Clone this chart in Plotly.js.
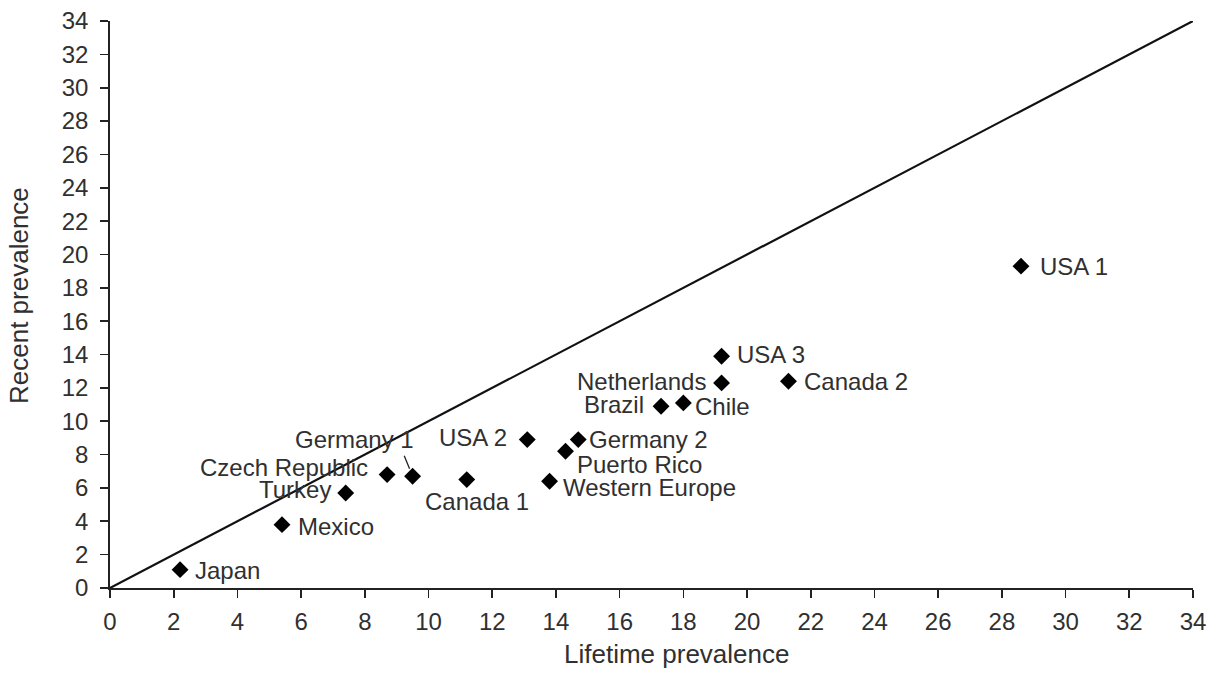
<!DOCTYPE html>
<html>
<head>
<meta charset="utf-8">
<script src="https://cdn.plot.ly/plotly-3.0.1.min.js"></script>
<style>html,body{margin:0;padding:0;background:#fff;}#chart{width:1223px;height:681px;}</style>
</head>
<body>
<div id="chart"></div>
<script>
// Data
const countries = ["Japan","Mexico","Turkey","Czech Republic","Germany 1","Canada 1","USA 2","Western Europe","Puerto Rico","Germany 2","Brazil","Chile","Netherlands","USA 3","Canada 2","USA 1"];
const lifetime  = [2.2, 5.4, 7.4, 8.7, 9.5, 11.2, 13.1, 13.8, 14.3, 14.7, 17.3, 18.0, 19.2, 19.2, 21.3, 28.6];
const recent    = [1.1, 3.8, 5.7, 6.8, 6.7, 6.5, 8.9, 6.4, 8.2, 8.9, 10.9, 11.1, 12.3, 13.9, 12.4, 19.3];
const diagonal  = [0, 34];
const tickVals  = [0,2,4,6,8,10,12,14,16,18,20,22,24,26,28,30,32,34];
const xTitle = "Lifetime prevalence";
const yTitle = "Recent prevalence";

// Label placement (layout only)
const placement = {
  "Japan":          {xa:"left",  ya:"middle", dx:13,  dy:-1},
  "Mexico":         {xa:"left",  ya:"middle", dx:14,  dy:-2},
  "Turkey":         {xa:"right", ya:"middle", dx:-13, dy:3},
  "Czech Republic": {xa:"right", ya:"middle", dx:-17, dy:7},
  "Germany 1":      {xa:"right", ya:"middle", dx:3,   dy:37, leader:{ax:-9, ay:-22}},
  "Canada 1":       {xa:"center",ya:"top",    dx:10,  dy:-6},
  "USA 2":          {xa:"right", ya:"middle", dx:-18, dy:2},
  "Western Europe": {xa:"left",  ya:"middle", dx:11,  dy:-6},
  "Puerto Rico":    {xa:"left",  ya:"middle", dx:9,   dy:-13},
  "Germany 2":      {xa:"left",  ya:"middle", dx:9,   dy:0},
  "Brazil":         {xa:"right", ya:"middle", dx:-15, dy:2},
  "Chile":          {xa:"left",  ya:"middle", dx:10,  dy:-4},
  "Netherlands":    {xa:"right", ya:"middle", dx:-14, dy:1},
  "USA 3":          {xa:"left",  ya:"middle", dx:13,  dy:2},
  "Canada 2":       {xa:"left",  ya:"middle", dx:14,  dy:0},
  "USA 1":          {xa:"left",  ya:"middle", dx:17,  dy:0}
};

const FONT = "Liberation Sans, Arial, sans-serif";
const TXT = "#303030";
const annotations = [];
countries.forEach((c, i) => {
  const p = placement[c];
  annotations.push({x: lifetime[i], y: recent[i], xref:"x", yref:"y", text:c, showarrow:false,
    xanchor:p.xa, yanchor:p.ya, xshift:p.dx, yshift:p.dy,
    font:{family:FONT, size:24, color:TXT}});
  if (p.leader) {
    annotations.push({x: lifetime[i], y: recent[i], xref:"x", yref:"y", text:"", showarrow:true,
      arrowhead:0, arrowwidth:1.3, arrowcolor:"#222", ax:p.leader.ax, ay:p.leader.ay, standoff:8});
  }
});
// Axis titles (placed as in the reference, slightly off-centre)
annotations.push({xref:"paper", yref:"paper", x:0.523, y:0, xanchor:"center", yanchor:"top", yshift:-49,
  text:xTitle, showarrow:false, font:{family:FONT, size:26, color:TXT}});
annotations.push({xref:"paper", yref:"paper", x:0, y:0.515, xanchor:"right", yanchor:"middle", xshift:-74,
  text:yTitle, textangle:-90, showarrow:false, font:{family:FONT, size:26, color:TXT}});

const traces = [
  {x: diagonal, y: diagonal, mode:"lines", line:{color:"#111", width:2.2}, hoverinfo:"skip", cliponaxis:false},
  {x: lifetime, y: recent, mode:"markers", marker:{symbol:"diamond", size:13, color:"#000"}, cliponaxis:false}
];

const axisCommon = {
  range:[0,34], tickvals:tickVals, ticks:"outside", ticklen:8, tickwidth:1.6, tickcolor:"#222",
  showline:true, linecolor:"#222", linewidth:1.8, showgrid:false, zeroline:false,
  tickfont:{family:FONT, size:24, color:TXT}, fixedrange:true
};

const layout = {
  width:1223, height:681,
  margin:{l:110, r:30, t:21, b:93},
  paper_bgcolor:"#fff", plot_bgcolor:"#fff",
  showlegend:false,
  xaxis: Object.assign({}, axisCommon, {ticklabelstandoff:3}),
  yaxis: Object.assign({}, axisCommon, {ticklabelstandoff:7}),
  annotations: annotations
};

Plotly.newPlot("chart", traces, layout, {staticPlot:true, displayModeBar:false});
</script>
</body>
</html>
